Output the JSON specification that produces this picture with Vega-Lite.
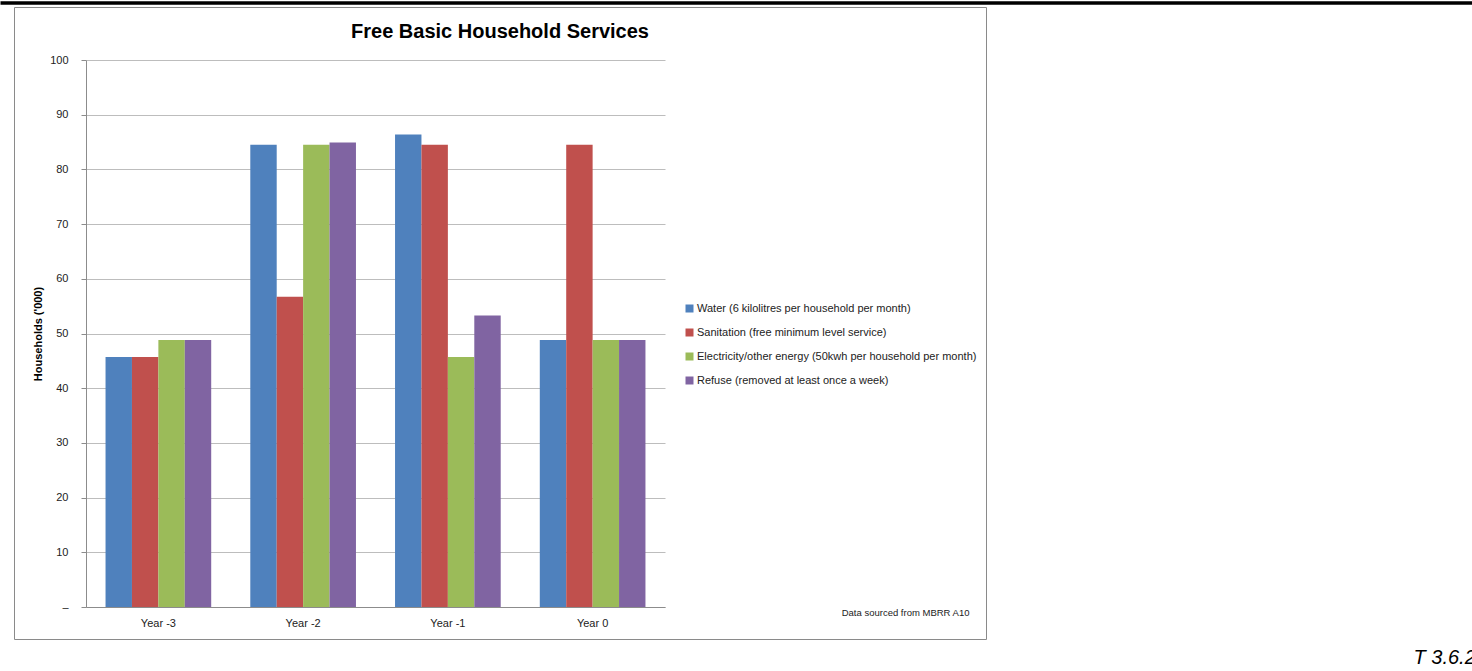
{
  "$schema": "https://vega.github.io/schema/vega-lite/v6.json",
  "autosize": "none",
  "padding": {"left": 14, "top": 7, "right": 486, "bottom": 32},
  "width": 972,
  "height": 632,
  "background": "white",
  "title": {
    "text": "Free Basic Household Services",
    "font": "Liberation Sans",
    "fontSize": 20,
    "fontWeight": "bold",
    "color": "#000000",
    "anchor": "middle",
    "frame": "group",
    "baseline": "alphabetic",
    "offset": -55
  },
  "data": {
    "values": [
      {"year": "Year -3", "service": "Water (6 kilolitres per household per month)", "value": 45.7},
      {"year": "Year -3", "service": "Sanitation (free minimum level service)", "value": 45.7},
      {"year": "Year -3", "service": "Electricity/other energy (50kwh per household per month)", "value": 48.8},
      {"year": "Year -3", "service": "Refuse (removed at least once a week)", "value": 48.8},
      {"year": "Year -2", "service": "Water (6 kilolitres per household per month)", "value": 84.5},
      {"year": "Year -2", "service": "Sanitation (free minimum level service)", "value": 56.7},
      {"year": "Year -2", "service": "Electricity/other energy (50kwh per household per month)", "value": 84.5},
      {"year": "Year -2", "service": "Refuse (removed at least once a week)", "value": 84.9},
      {"year": "Year -1", "service": "Water (6 kilolitres per household per month)", "value": 86.4},
      {"year": "Year -1", "service": "Sanitation (free minimum level service)", "value": 84.5},
      {"year": "Year -1", "service": "Electricity/other energy (50kwh per household per month)", "value": 45.7},
      {"year": "Year -1", "service": "Refuse (removed at least once a week)", "value": 53.3},
      {"year": "Year 0", "service": "Water (6 kilolitres per household per month)", "value": 48.8},
      {"year": "Year 0", "service": "Sanitation (free minimum level service)", "value": 84.5},
      {"year": "Year 0", "service": "Electricity/other energy (50kwh per household per month)", "value": 48.8},
      {"year": "Year 0", "service": "Refuse (removed at least once a week)", "value": 48.8}
    ]
  },
  "layer": [
    {
      "mark": {"type": "bar"},
      "encoding": {
        "x": {
          "field": "year",
          "type": "nominal",
          "sort": ["Year -3", "Year -2", "Year -1", "Year 0"],
          "scale": {"range": [72, 651], "paddingInner": 0.27, "paddingOuter": 0.135},
          "axis": {
            "orient": "bottom",
            "offset": -32,
            "labelAngle": 0,
            "ticks": false,
            "labelPadding": 10,
            "labelFont": "Liberation Sans",
            "labelFontSize": 11,
            "labelColor": "#222222",
            "domainColor": "#8c8c8c",
            "domainWidth": 1,
            "grid": false,
            "title": "Data sourced from MBRR A10",
            "titleFont": "Liberation Sans",
            "titleFontSize": 9.5,
            "titleFontWeight": "normal",
            "titleColor": "#222222",
            "titleAlign": "right",
            "titleBaseline": "middle",
            "titleAnchor": null,
            "titleX": 955,
            "titleY": 5.5
          }
        },
        "xOffset": {
          "field": "service",
          "type": "nominal",
          "sort": [
            "Water (6 kilolitres per household per month)",
            "Sanitation (free minimum level service)",
            "Electricity/other energy (50kwh per household per month)",
            "Refuse (removed at least once a week)"
          ],
          "scale": {"paddingInner": 0, "paddingOuter": 0}
        },
        "y": {
          "field": "value",
          "type": "quantitative",
          "scale": {"domain": [0, 100], "range": [600, 53], "nice": false, "zero": true},
          "axis": {
            "orient": "left",
            "offset": -72,
            "values": [0, 10, 20, 30, 40, 50, 60, 70, 80, 90, 100],
            "labelExpr": "datum.value == 0 ? '–' : datum.label",
            "labelFont": "Liberation Sans",
            "labelFontSize": 11,
            "labelColor": "#222222",
            "labelPadding": 13,
            "tickSize": 5,
            "tickColor": "#8c8c8c",
            "domainColor": "#8c8c8c",
            "grid": true,
            "gridColor": "#bdbdbd",
            "gridWidth": 1.2,
            "title": "Households ('000)",
            "titleFont": "Liberation Sans",
            "titleFontSize": 11,
            "titleFontWeight": "bold",
            "titleColor": "#000000",
            "titlePadding": 6
          }
        },
        "color": {
          "field": "service",
          "type": "nominal",
          "scale": {
            "domain": [
              "Water (6 kilolitres per household per month)",
              "Sanitation (free minimum level service)",
              "Electricity/other energy (50kwh per household per month)",
              "Refuse (removed at least once a week)"
            ],
            "range": ["#4f81bd", "#c0504d", "#9bbb59", "#8064a2"]
          },
          "legend": {
            "orient": "none",
            "legendX": 670,
            "legendY": 296,
            "title": null,
            "padding": 0,
            "symbolType": "square",
            "symbolSize": 64,
            "symbolStrokeWidth": 0,
            "labelFont": "Liberation Sans",
            "labelFontSize": 11,
            "labelColor": "#222222",
            "labelOffset": 2,
            "rowPadding": 12,
            "labelLimit": 400
          }
        }
      }
    },
    {
      "mark": {"type": "point", "opacity": 0},
      "encoding": {
        "x": {
          "field": "value",
          "type": "quantitative",
          "scale": {"range": [-14, 1458]},
          "axis": {
            "orient": "top",
            "offset": 4.5,
            "domain": true,
            "domainColor": "#000000",
            "domainWidth": 3.5,
            "ticks": false,
            "labels": false,
            "grid": false,
            "title": null
          }
        },
        "y": {
          "field": "value",
          "type": "quantitative",
          "axis": {
            "orient": "right",
            "domain": false,
            "ticks": false,
            "labels": false,
            "grid": false,
            "title": "T 3.6.2",
            "titleAngle": 0,
            "titleAnchor": null,
            "titleX": 427,
            "titleY": 656,
            "titleAlign": "left",
            "titleBaseline": "alphabetic",
            "titleFont": "Liberation Sans",
            "titleFontStyle": "italic",
            "titleFontWeight": "normal",
            "titleFontSize": 20,
            "titleColor": "#000000"
          }
        }
      }
    }
  ],
  "resolve": {
    "scale": {"x": "independent"},
    "axis": {"x": "independent", "y": "independent"}
  },
  "config": {
    "view": {"stroke": "#8a8a8a", "strokeWidth": 1},
    "font": "Liberation Sans"
  }
}
